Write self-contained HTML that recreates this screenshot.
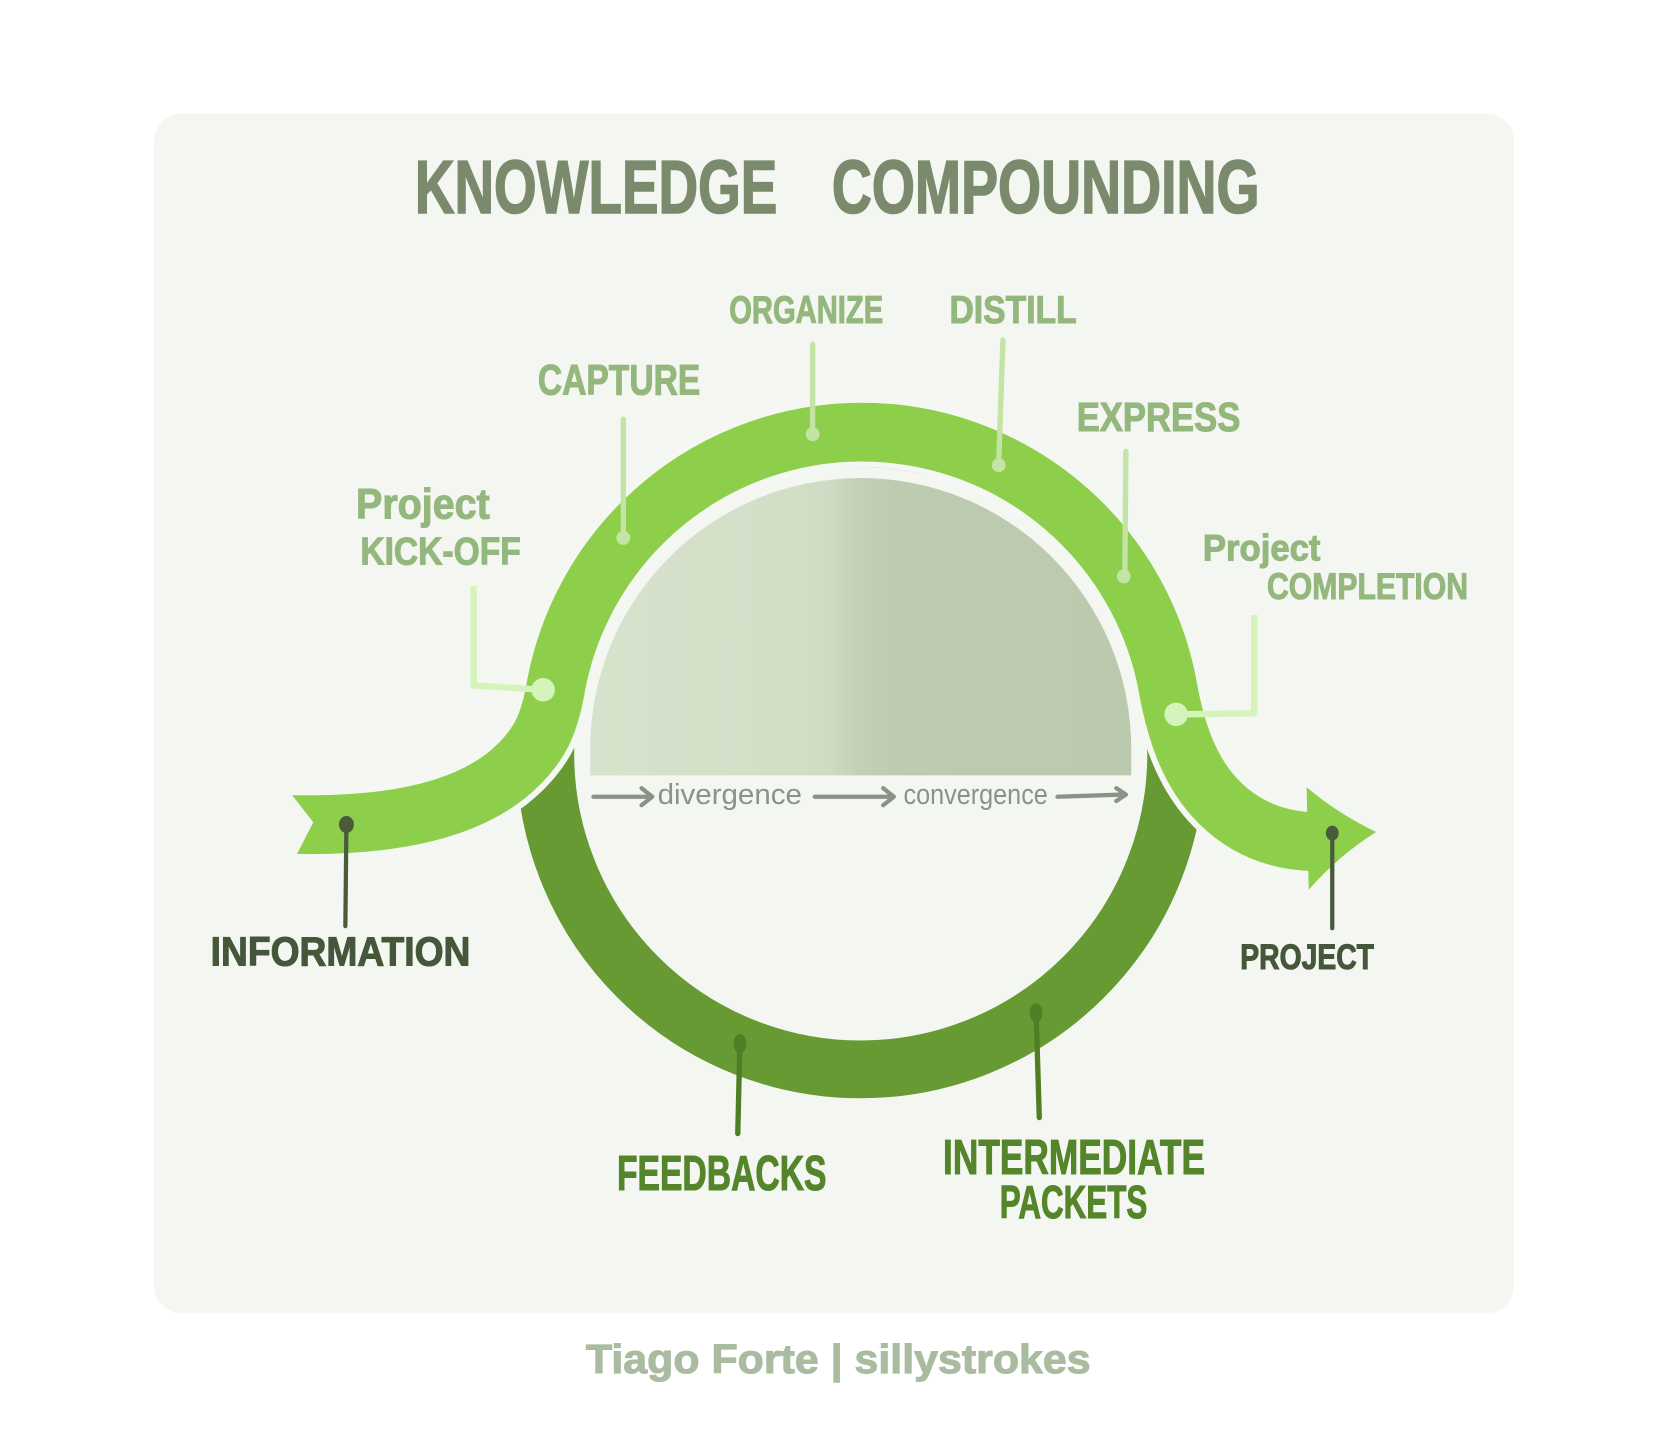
<!DOCTYPE html>
<html>
<head>
<meta charset="utf-8">
<style>
  html,body{margin:0;padding:0;background:#ffffff;}
  body{width:1668px;height:1433px;overflow:hidden;}
  svg{display:block;}
  text{font-family:"Liberation Sans", sans-serif;font-weight:bold;}
</style>
</head>
<body>
<svg width="1668" height="1433" viewBox="0 0 1560 1340" preserveAspectRatio="none" xmlns="http://www.w3.org/2000/svg">
  <defs>
    <linearGradient id="gray" x1="552" y1="0" x2="1058" y2="0" gradientUnits="userSpaceOnUse">
      <stop offset="0" stop-color="#d6e2cb"/>
      <stop offset="0.38" stop-color="#d2dec6"/>
      <stop offset="0.44" stop-color="#cfdbc2"/>
      <stop offset="0.5" stop-color="#c2d0b6"/>
      <stop offset="0.56" stop-color="#bdcbb1"/>
      <stop offset="1" stop-color="#bbc9ae"/>
    </linearGradient>
  </defs>

  <!-- background panel -->
  <rect x="0" y="0" width="1560" height="1340" fill="#ffffff"/>
  <rect x="144" y="106" width="1272" height="1122" rx="26" ry="26" fill="#f4f7f1"/>

  <!-- title -->
  <text x="388" y="199" font-size="70" fill="#7b8a6c" stroke="#7b8a6c" stroke-width="1.5" textLength="339" lengthAdjust="spacingAndGlyphs">KNOWLEDGE</text>
  <text x="778" y="199" font-size="70" fill="#7b8a6c" stroke="#7b8a6c" stroke-width="1.5" textLength="400" lengthAdjust="spacingAndGlyphs">COMPOUNDING</text>

  <!-- gray semicircle -->
  <path d="M 552 725 L 552 700 A 253 253 0 0 1 1058 700 L 1058 725 Z" fill="url(#gray)"/>

  <!-- dark ring -->
  <circle cx="805" cy="705" r="295" fill="none" stroke="#679a32" stroke-width="54"/>

  <!-- light band: outline then band -->
  <path d="M 272 771 C 360 773 440 760 485 715 C 505 695 513 678 519 647 A 291 291 0 0 1 1093 647 C 1099 678 1110 720 1140 750 C 1165 775 1195 786 1228 787"
        fill="none" stroke="#f5f8f2" stroke-width="66"/>
  <path d="M 272 771 C 360 773 440 760 485 715 C 505 695 513 678 519 647 A 291 291 0 0 1 1093 647 C 1099 678 1110 720 1140 750 C 1165 775 1195 786 1228 787"
        fill="none" stroke="#8dcf4b" stroke-width="55"/>
  <!-- arrow head -->
  <path d="M 1222 736 Q 1250 760 1287 778 Q 1252 800 1224 832 Z" fill="#8dcf4b"/>
  <!-- tail notch -->
  <path d="M 264 738 L 272 742 L 293 769 L 277 800 L 264 804 Z" fill="#f4f7f1"/>

  <!-- light leaders -->
  <g stroke="#c3e4a4" stroke-width="5" stroke-linecap="round" fill="none">
    <line x1="583" y1="392" x2="583" y2="503"/>
    <line x1="760" y1="322" x2="760" y2="405"/>
    <line x1="938" y1="318" x2="934" y2="433"/>
    <line x1="1053" y1="422" x2="1052" y2="538"/>
  </g>
  <g fill="#c3e4a4">
    <circle cx="583" cy="503" r="6.5"/>
    <circle cx="760" cy="406" r="6.5"/>
    <circle cx="934" cy="435" r="6.5"/>
    <circle cx="1051" cy="539" r="6.5"/>
  </g>
  <g stroke="#d5f4bc" stroke-width="6" fill="none" stroke-linejoin="round">
    <polyline points="443,548 443,641 508,645"/>
    <polyline points="1173,575 1173,667 1100,668"/>
  </g>
  <g fill="#d5f4bc">
    <circle cx="508" cy="645" r="11"/>
    <circle cx="1100" cy="668" r="11"/>
  </g>

  <!-- light labels -->
  <g fill="#94b77d" stroke="#94b77d" stroke-width="1">
    <text x="503" y="369" font-size="40" textLength="152" lengthAdjust="spacingAndGlyphs">CAPTURE</text>
    <text x="682" y="302" font-size="36" textLength="144" lengthAdjust="spacingAndGlyphs">ORGANIZE</text>
    <text x="888" y="302" font-size="36" textLength="119" lengthAdjust="spacingAndGlyphs">DISTILL</text>
    <text x="1007" y="403" font-size="38" textLength="153" lengthAdjust="spacingAndGlyphs">EXPRESS</text>
    <text x="333" y="485" font-size="40" textLength="125" lengthAdjust="spacingAndGlyphs">Project</text>
    <text x="337" y="528" font-size="36" textLength="150" lengthAdjust="spacingAndGlyphs">KICK-OFF</text>
    <text x="1125" y="524" font-size="35" textLength="110" lengthAdjust="spacingAndGlyphs">Project</text>
    <text x="1185" y="560" font-size="35" textLength="188" lengthAdjust="spacingAndGlyphs">COMPLETION</text>
  </g>

  <!-- divergence / convergence -->
  <g stroke="#8a9486" stroke-width="4" fill="none" stroke-linecap="round" stroke-linejoin="round">
    <line x1="555" y1="745" x2="608" y2="745"/>
    <polyline points="600,737 610,745 600,753"/>
    <line x1="762" y1="745" x2="834" y2="745"/>
    <polyline points="826,737 836,745 826,753"/>
    <line x1="989" y1="745" x2="1050" y2="743"/>
    <polyline points="1044,737 1053,743 1044,749"/>
  </g>
  <g fill="#8a9486" font-size="27">
    <text x="615" y="752" textLength="135" lengthAdjust="spacingAndGlyphs" style="font-weight:normal">divergence</text>
    <text x="845" y="752" textLength="135" lengthAdjust="spacingAndGlyphs" style="font-weight:normal">convergence</text>
  </g>

  <!-- dark leaders -->
  <g stroke="#4a5b3c" stroke-width="4" stroke-linecap="round">
    <line x1="324" y1="770" x2="323" y2="866"/>
    <line x1="1246" y1="779" x2="1246" y2="868"/>
  </g>
  <g fill="#4a5b3c">
    <ellipse cx="324" cy="771" rx="7" ry="8"/>
    <ellipse cx="1246" cy="779" rx="6" ry="7"/>
  </g>
  <g stroke="#4f7e26" stroke-width="5" stroke-linecap="round">
    <line x1="692" y1="975" x2="690" y2="1060"/>
    <line x1="969" y1="946" x2="972" y2="1045"/>
  </g>
  <g fill="#4f7e26">
    <ellipse cx="692" cy="976" rx="6" ry="9"/>
    <ellipse cx="969" cy="947" rx="6" ry="9"/>
  </g>

  <!-- dark labels -->
  <g fill="#45573a" stroke="#45573a" stroke-width="1">
    <text x="197" y="903" font-size="38" textLength="243" lengthAdjust="spacingAndGlyphs">INFORMATION</text>
    <text x="1160" y="906" font-size="33" textLength="125" lengthAdjust="spacingAndGlyphs">PROJECT</text>
  </g>
  <g fill="#55852b" stroke="#55852b" stroke-width="1">
    <text x="577" y="1113" font-size="46" textLength="196" lengthAdjust="spacingAndGlyphs">FEEDBACKS</text>
    <text x="882" y="1098" font-size="46" textLength="245" lengthAdjust="spacingAndGlyphs">INTERMEDIATE</text>
    <text x="935" y="1139" font-size="43" textLength="138" lengthAdjust="spacingAndGlyphs">PACKETS</text>
  </g>

  <!-- credit -->
  <text x="548" y="1284" font-size="38" fill="#a9bc9f" stroke="#a9bc9f" stroke-width="1" textLength="472" lengthAdjust="spacingAndGlyphs">Tiago Forte | sillystrokes</text>
</svg>
</body>
</html>
